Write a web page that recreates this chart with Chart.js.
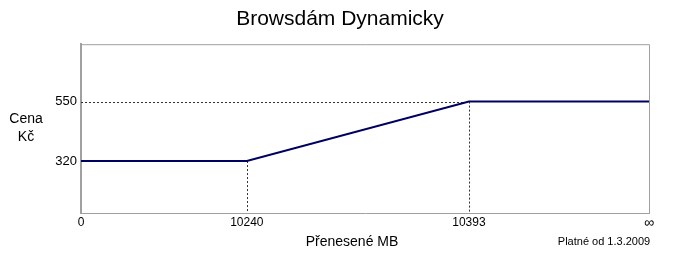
<!DOCTYPE html>
<html>
<head>
<meta charset="utf-8">
<script src="https://cdn.jsdelivr.net/npm/chart.js@4"></script>
<style>
    body { margin: 0; background: #fff; }
    #wrap { width: 680px; height: 264px; }
</style>
</head>
<body>
<div id="wrap"><canvas id="priceChart" width="680" height="264"></canvas></div>
<script>
// data
const breakLabels = ['0', '10240', '10393', '∞'];   // Přenesené MB
const breakSlots = [0, 29.2, 68.3, 100];             // where each break sits on the (stylised) axis
const prices = [320, 320, 550, 550];                 // Cena Kč
const priceTicks = [320, 550];

const FONT = '"Liberation Sans", Arial, sans-serif';
const GREY = '#a0a0a0';

// dotted guide lines + frame + the extra labels
const extras = {
    id: 'extras',
    beforeDatasetsDraw(chart) {
        const ctx = chart.ctx;
        const x = chart.scales.x, y = chart.scales.y;
        const area = chart.chartArea;
        ctx.save();
        ctx.strokeStyle = '#333';
        ctx.lineWidth = 1;
        ctx.setLineDash([2, 2]);
        // drop lines from the inner break points
        for (let i = 1; i < breakSlots.length - 1; i++) {
            const px = Math.round(x.getPixelForValue(breakSlots[i])) + 0.5;
            ctx.beginPath();
            ctx.moveTo(px, y.getPixelForValue(prices[i]));
            ctx.lineTo(px, area.bottom);
            ctx.stroke();
        }
        // horizontal guides for price levels that don't start at the left edge
        priceTicks.forEach(p => {
            const first = prices.indexOf(p);
            if (first > 0) {
                const py = Math.round(y.getPixelForValue(p)) + 0.5;
                ctx.beginPath();
                ctx.moveTo(area.left, py);
                ctx.lineTo(x.getPixelForValue(breakSlots[first]), py);
                ctx.stroke();
            }
        });
        ctx.restore();
    },
    afterDraw(chart) {
        const ctx = chart.ctx;
        const area = chart.chartArea;
        ctx.save();
        // frame: top + right in light grey, left a bit heavier
        ctx.strokeStyle = GREY;
        ctx.lineWidth = 1;
        ctx.beginPath();
        ctx.moveTo(area.left, area.top + 0.5);
        ctx.lineTo(area.right + 0.5, area.top + 0.5);
        ctx.lineTo(area.right + 0.5, area.bottom);
        ctx.stroke();

        ctx.fillStyle = '#000';
        ctx.textAlign = 'center';
        ctx.textBaseline = 'middle';
        ctx.font = '14px ' + FONT;
        ctx.fillText('Cena', 26, 119);
        ctx.fillText('Kč', 26, 137);
        ctx.fillText('Přenesené MB', 352, 242);
        ctx.font = '11px ' + FONT;
        ctx.fillText('Platné od 1.3.2009', 604, 242);
        ctx.restore();
    }
};

const ctx = document.getElementById('priceChart');
new Chart(ctx, {
    type: 'line',
    data: {
        datasets: [{
            data: breakSlots.map((s, i) => ({ x: s, y: prices[i] })),
            borderColor: '#000060',
            borderWidth: 2,
            pointRadius: 0,
            tension: 0,
            fill: false
        }]
    },
    options: {
        responsive: false,
        animation: false,
        layout: { padding: 0 },
        plugins: {
            legend: { display: false },
            tooltip: { enabled: false },
            title: {
                display: true,
                text: 'Browsdám Dynamicky',
                color: '#000',
                font: { family: FONT, size: 21, weight: 'normal' },
                padding: { top: 7, bottom: 12 }
            }
        },
        scales: {
            x: {
                type: 'linear',
                min: 0,
                max: 100,
                grid: { display: false, drawTicks: false },
                border: { color: GREY, width: 1 },
                afterBuildTicks: axis => {
                    axis.ticks = breakSlots.map(v => ({ value: v }));
                },
                afterFit: axis => {
                    axis.height = 51;
                    axis.paddingLeft = 0;
                    axis.paddingRight = 31;
                },
                ticks: {
                    autoSkip: false,
                    maxRotation: 0,
                    padding: 2,
                    color: '#000',
                    font: c => ({ family: FONT, size: c.tick && c.tick.value === 100 ? 14 : 12 }),
                    callback: value => breakLabels[breakSlots.indexOf(value)]
                }
            },
            y: {
                min: 119,
                max: 772,
                grid: { display: false, drawTicks: false },
                border: { color: GREY, width: 2 },
                afterBuildTicks: axis => {
                    axis.ticks = priceTicks.map(v => ({ value: v }));
                },
                afterFit: axis => {
                    axis.width = 81;
                    axis.paddingTop = 0;
                    axis.paddingBottom = 0;
                },
                ticks: {
                    padding: 4,
                    color: '#000',
                    font: { family: FONT, size: 13 }
                }
            }
        }
    },
    plugins: [extras]
});
</script>
</body>
</html>
